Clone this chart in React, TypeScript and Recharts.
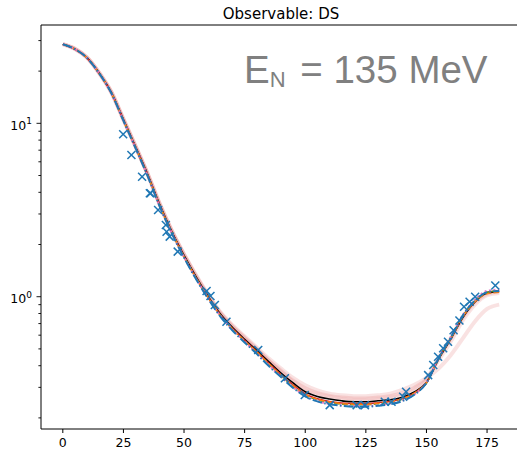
import React from 'react';
import { ComposedChart, Line, Scatter, XAxis, YAxis, ReferenceLine } from 'recharts';

// scattering angle grid (deg)
const angles = [0, 5, 10, 15, 20, 25, 30, 35, 40, 45, 50, 55, 60, 65, 70, 75, 80, 85, 90, 95, 100, 105, 110, 115, 120, 125, 130, 135, 140, 145, 150, 155, 160, 165, 170, 175, 180];

// main prediction (black)
const black = [28.6, 26.8, 23.9, 19.5, 15.1, 10.5, 7.33, 5.07, 3.39, 2.37, 1.73, 1.3, 1.0, 0.794, 0.664, 0.568, 0.49, 0.421, 0.363, 0.318, 0.283, 0.266, 0.257, 0.251, 0.248, 0.248, 0.251, 0.254, 0.263, 0.282, 0.32, 0.437, 0.569, 0.759, 0.933, 1.05, 1.07];
const red = [28.6, 26.8, 23.8, 19.4, 15.0, 10.45, 7.28, 5.03, 3.36, 2.35, 1.71, 1.285, 0.99, 0.785, 0.655, 0.56, 0.482, 0.413, 0.355, 0.31, 0.275, 0.258, 0.249, 0.244, 0.242, 0.242, 0.245, 0.249, 0.258, 0.278, 0.318, 0.44, 0.575, 0.77, 0.94, 1.06, 1.08];
const green = [28.6, 26.8, 23.8, 19.4, 15.0, 10.4, 7.25, 5.0, 3.34, 2.34, 1.7, 1.28, 0.985, 0.78, 0.65, 0.555, 0.478, 0.408, 0.35, 0.305, 0.271, 0.254, 0.245, 0.24, 0.238, 0.238, 0.241, 0.246, 0.256, 0.276, 0.318, 0.442, 0.578, 0.775, 0.945, 1.06, 1.08];
const orange = [28.6, 26.8, 23.8, 19.4, 15.0, 10.4, 7.25, 5.0, 3.34, 2.34, 1.7, 1.28, 0.985, 0.78, 0.652, 0.556, 0.479, 0.41, 0.352, 0.306, 0.273, 0.256, 0.247, 0.242, 0.24, 0.24, 0.243, 0.248, 0.258, 0.278, 0.32, 0.44, 0.572, 0.765, 0.935, 1.04, 1.06];
const pinkDot = [28.6, 26.8, 23.8, 19.4, 14.95, 10.38, 7.22, 4.98, 3.32, 2.32, 1.69, 1.27, 0.978, 0.775, 0.645, 0.55, 0.472, 0.402, 0.346, 0.3, 0.268, 0.25, 0.241, 0.236, 0.234, 0.234, 0.237, 0.242, 0.252, 0.273, 0.32, 0.445, 0.585, 0.785, 0.96, 1.08, 1.1];
const blue = [28.6, 26.8, 23.8, 19.4, 14.95, 10.35, 7.2, 4.96, 3.31, 2.31, 1.68, 1.26, 0.97, 0.768, 0.638, 0.545, 0.468, 0.398, 0.344, 0.298, 0.266, 0.249, 0.24, 0.235, 0.232, 0.232, 0.235, 0.24, 0.25, 0.272, 0.318, 0.44, 0.58, 0.78, 0.95, 1.06, 1.08];

// posterior samples (light red band)
const bandA = [28.6, 26.9, 24.0, 19.6, 15.2, 10.6, 7.4, 5.12, 3.43, 2.4, 1.76, 1.33, 1.025, 0.815, 0.685, 0.59, 0.51, 0.44, 0.385, 0.34, 0.308, 0.288, 0.276, 0.27, 0.267, 0.267, 0.27, 0.276, 0.29, 0.31, 0.34, 0.385, 0.46, 0.575, 0.72, 0.85, 0.9];
const bandB = [28.6, 26.9, 23.9, 19.5, 15.1, 10.55, 7.36, 5.1, 3.41, 2.39, 1.75, 1.315, 1.012, 0.805, 0.675, 0.58, 0.5, 0.428, 0.374, 0.328, 0.296, 0.278, 0.268, 0.262, 0.259, 0.259, 0.262, 0.267, 0.278, 0.298, 0.335, 0.43, 0.55, 0.73, 0.9, 1.02, 1.05];
const bandC = [28.6, 26.8, 23.9, 19.5, 15.1, 10.5, 7.35, 5.08, 3.4, 2.38, 1.74, 1.305, 1.005, 0.8, 0.668, 0.572, 0.495, 0.424, 0.368, 0.322, 0.29, 0.273, 0.263, 0.257, 0.254, 0.254, 0.257, 0.262, 0.272, 0.292, 0.33, 0.445, 0.575, 0.76, 0.93, 1.04, 1.07];

// measured cross sections
const dataAngles = [24.9, 28.3, 32.7, 35.9, 36.2, 39.3, 42.5, 42.8, 44.1, 47.4, 59.3, 60.9, 62.7, 67.5, 80.6, 91.6, 99.8, 110.1, 121.2, 124.6, 132.8, 135.6, 140.4, 141.6, 150.7, 152.8, 154.8, 156.9, 158.9, 161.2, 163.6, 165.5, 167.8, 170.1, 178.4];
const dataValues = [8.64, 6.56, 4.92, 3.95, 3.95, 3.16, 2.59, 2.37, 2.22, 1.82, 1.08, 1.01, 0.895, 0.718, 0.493, 0.339, 0.271, 0.237, 0.237, 0.237, 0.248, 0.248, 0.265, 0.283, 0.353, 0.404, 0.451, 0.504, 0.55, 0.64, 0.73, 0.876, 0.936, 1.0, 1.16];

const xTicks = [0, 25, 50, 75, 100, 125, 150, 175];
const yTicks = [0.2, 0.3, 0.4, 0.5, 0.6, 0.7, 0.8, 0.9, 1, 2, 3, 4, 5, 6, 7, 8, 9, 10, 20, 30];

const rows = angles.map((x, i) => ({
  x,
  black: black[i],
  red: red[i],
  green: green[i],
  orange: orange[i],
  pinkDot: pinkDot[i],
  blue: blue[i],
  bandA: bandA[i],
  bandB: bandB[i],
  bandC: bandC[i],
}));

const points = dataAngles.map((x, i) => ({ x, y: dataValues[i] }));

const FONT = 'DejaVu Sans';

const YTick = (props: any) => {
  const { x, y, payload } = props;
  const v = payload.value;
  const major = v === 1 || v === 10;
  return (
    <g>
      <line x1={x - (major ? 4.5 : 2.6)} x2={x} y1={y} y2={y} stroke="#000" strokeWidth={0.9} />
      {major && (
        <text x={x - 9} y={y + 6.5} textAnchor="end" fontSize={12.5} fontFamily={FONT} fill="#000">
          10<tspan dy={-5.5} fontSize={9}>{v === 1 ? '0' : '1'}</tspan>
        </text>
      )}
    </g>
  );
};

const Cross = (props: any) => {
  const { cx, cy } = props;
  const s = 4;
  return (
    <g stroke="#1f77b4" strokeWidth={1.5}>
      <line x1={cx - s} y1={cy - s} x2={cx + s} y2={cy + s} />
      <line x1={cx - s} y1={cy + s} x2={cx + s} y2={cy - s} />
    </g>
  );
};

const bandStyle = { stroke: '#e06060', strokeWidth: 4, strokeOpacity: 0.18 };

export default function App() {
  return (
    <div style={{ position: 'absolute', left: 0, top: 0, width: 517, height: 451, overflow: 'hidden', background: '#fff' }}>
      <ComposedChart width={530} height={451} data={rows} margin={{ top: 25, right: 9, bottom: 0, left: 0 }}>
        <XAxis
          dataKey="x"
          type="number"
          domain={[-9, 189]}
          allowDataOverflow
          ticks={xTicks}
          tickSize={4}
          tickMargin={5}
          height={22}
          stroke="#000"
          tick={{ fill: '#000', fontSize: 12.5, fontFamily: FONT }}
        />
        <YAxis
          type="number"
          scale="log"
          domain={[0.1726, 36.9]}
          allowDataOverflow
          ticks={yTicks}
          width={41}
          tickSize={0}
          tickMargin={0}
          interval={0}
          stroke="#000"
          tick={<YTick />}
        />
        <ReferenceLine y={36.9} stroke="#000" strokeWidth={1} ifOverflow="extendDomain" />
        <Line dataKey="bandA" type="monotone" dot={false} isAnimationActive={false} {...bandStyle} />
        <Line dataKey="bandB" type="monotone" dot={false} isAnimationActive={false} {...bandStyle} />
        <Line dataKey="bandC" type="monotone" dot={false} isAnimationActive={false} {...bandStyle} />
        <Line dataKey="black" type="monotone" dot={false} isAnimationActive={false} stroke="#000" strokeWidth={1.6} />
        <Line dataKey="red" type="monotone" dot={false} isAnimationActive={false} stroke="#d62728" strokeWidth={1.5} />
        <Line dataKey="green" type="monotone" dot={false} isAnimationActive={false} stroke="#2ca02c" strokeWidth={1.5} strokeDasharray="5.5 2.4" />
        <Line dataKey="orange" type="monotone" dot={false} isAnimationActive={false} stroke="#ff7f0e" strokeWidth={1.5} strokeDasharray="5.5 2.4" />
        <Line dataKey="pinkDot" type="monotone" dot={false} isAnimationActive={false} stroke="#e377c2" strokeWidth={2} strokeDasharray="2 2.5" />
        <Line dataKey="blue" type="monotone" dot={false} isAnimationActive={false} stroke="#1f77b4" strokeWidth={2} strokeDasharray="9.6 2.4 1.5 2.4" />
        <Scatter data={points} dataKey="y" shape={<Cross />} isAnimationActive={false} />
      </ComposedChart>
      <svg width={517} height={451} style={{ position: 'absolute', left: 0, top: 0, pointerEvents: 'none' }}>
        <text x={281} y={18.5} textAnchor="middle" fontSize={15} fontFamily={FONT} fill="#000">
          Observable: DS
        </text>
        <text x={244} y={83} fontSize={38.5} fontFamily="Liberation Sans" fill="#808080">
          E<tspan fontSize={22} dy={4}>N</tspan><tspan fontSize={38.5} dy={-4} dx={4}> = 135 MeV</tspan>
        </text>
      </svg>
    </div>
  );
}
